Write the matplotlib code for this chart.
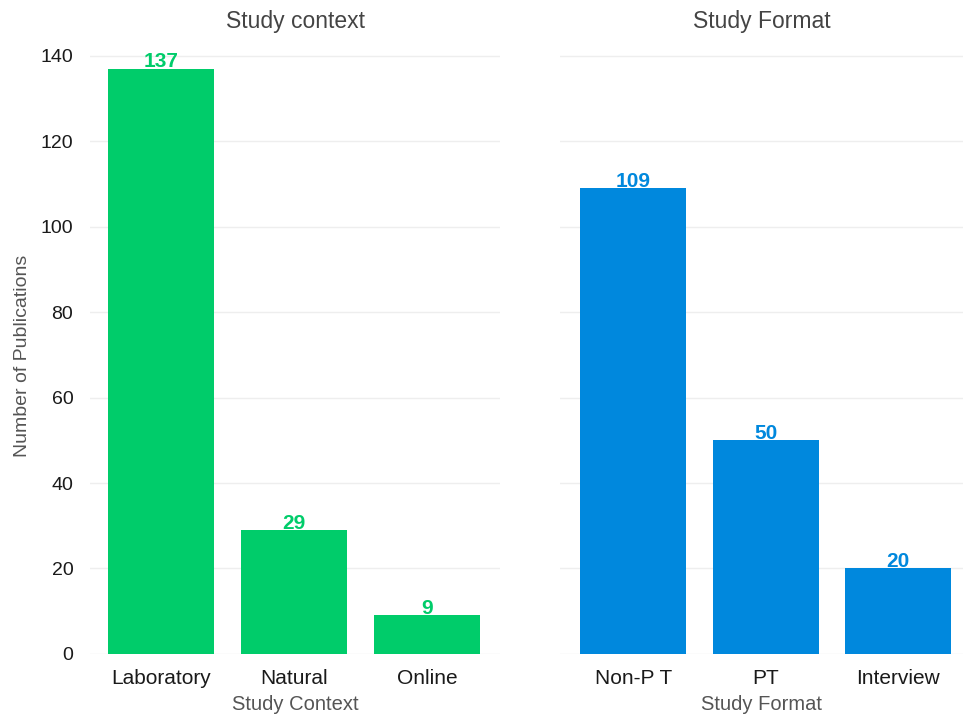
import matplotlib
matplotlib.use("Agg")
import matplotlib.pyplot as plt

# Study context panel
context_labels = ["Laboratory", "Natural", "Online"]
context_counts = [137, 29, 9]

# Study format panel
format_labels = ["Non-P T", "PT", "Interview"]
format_counts = [109, 50, 20]

green = "#00cc6a"
blue = "#0088dd"

plt.rcParams["font.family"] = ["Liberation Sans", "DejaVu Sans"]

fig = plt.figure(figsize=(9.63, 7.17), dpi=100)
ax1 = fig.add_axes([0.0935, 0.088, 0.4257, 0.857])
ax2 = fig.add_axes([0.5815, 0.088, 0.4185, 0.857], sharey=ax1)


def draw_panel(ax, labels, counts, color, title, xlabel, xlim):
    x = list(range(len(labels)))
    bars = ax.bar(x, counts, width=0.8, color=color, zorder=2)
    for b, v in zip(bars, counts):
        ax.text(b.get_x() + b.get_width() / 2, v - 0.6, str(v), ha="center", va="bottom",
                color=color, fontsize=15, fontweight="bold", zorder=3,
                family=["Liberation Sans Narrow", "Liberation Sans"])
    ax.set_xticks(x)
    ax.set_xticklabels(labels, fontsize=15, color="#1a1a1a")
    ax.set_xlim(*xlim)
    ax.set_title(title, fontsize=16.5, color="#444444", pad=8)
    ax.set_xlabel(xlabel, fontsize=14.5, color="#555555", labelpad=5)
    ax.grid(axis="y", color="#eeeeee", linewidth=1, zorder=0)
    for s in ax.spines.values():
        s.set_visible(False)
    ax.tick_params(length=0)
    ax.tick_params(axis="x", pad=11)


draw_panel(ax1, context_labels, context_counts, green, "Study context", "Study Context", (-0.535, 2.55))
draw_panel(ax2, format_labels, format_counts, blue, "Study Format", "Study Format", (-0.555, 2.49))

ax1.set_ylim(0, 143.85)
ax1.set_yticks([0, 20, 40, 60, 80, 100, 120, 140])
ax1.tick_params(axis="y", labelsize=14, labelcolor="#1a1a1a", pad=12)
ax1.set_ylabel("Number of Publications", fontsize=14, color="#555555", labelpad=7)
ax1.yaxis.label.set_y(0.485)
ax2.tick_params(axis="y", labelleft=False)

fig.savefig("out.png", dpi=100)
